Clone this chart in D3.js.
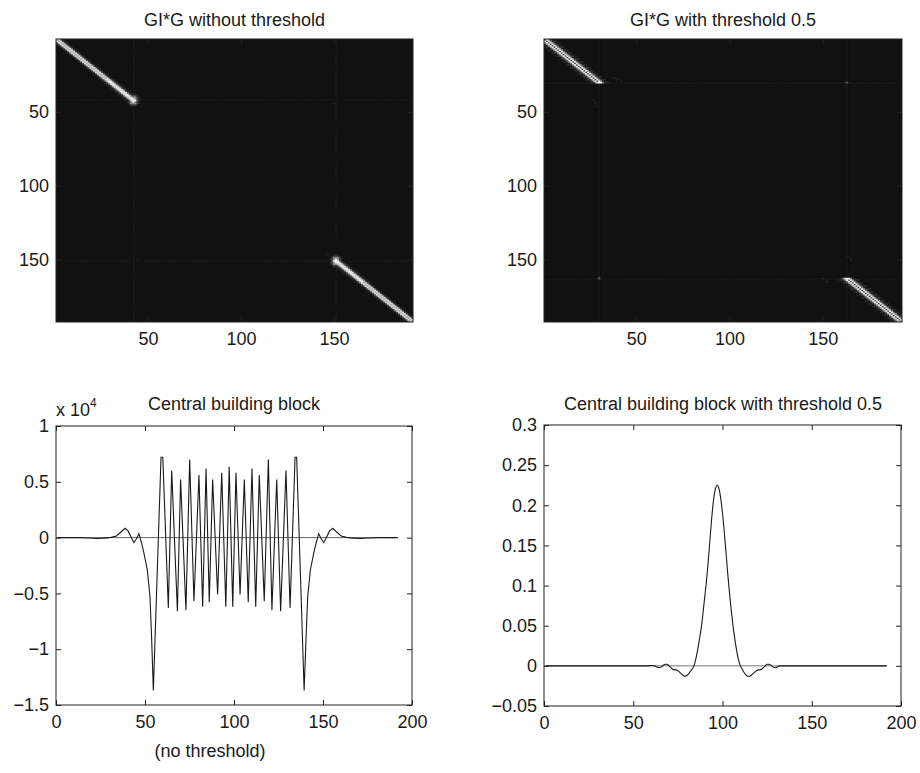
<!DOCTYPE html>
<html>
<head>
<meta charset="utf-8">
<script src="https://cdn.jsdelivr.net/npm/d3@7"></script>
<style>
  body { margin: 0; background: #fff; }
  text { font-family: "Liberation Sans", Arial, Helvetica, sans-serif; fill: #1a1a1a; }
</style>
</head>
<body>
<svg id="chart" width="920" height="773"></svg>
<script>
// ---- data ----
var imgSize = 192;
var imgTicks = [50, 100, 150];
var plotXTicks = [0, 50, 100, 150, 200];
var blYTicks = [-1.5, -1, -0.5, 0, 0.5, 1];
var brYTicks = [-0.05, 0, 0.05, 0.1, 0.15, 0.2, 0.25, 0.3];

// GI*G without threshold: two diagonal runs (rows), cross profiles across the diagonal
var tlRunA = [1, 42];
var tlRunB = [151, 192];
var tlCore = [0.06, 0.25, 0.85, 0.65, 0.85, 0.25, 0.06];
var tlMid = [0.04, 0.08, 0.3, 0.8, 0.95, 0.8, 0.3, 0.08, 0.04];
var tlBloomRadial = [1.0, 0.9, 0.55, 0.22, 0.07];
var tlBloomAt = [[42, 42], [151, 151]];
var tlFaintLines = [42, 151];
var tlSpots = [[44, 150, 0.05], [150, 44, 0.05], [46, 46, 0.06], [47, 47, 0.05], [147, 147, 0.06], [146, 146, 0.05]];

// GI*G with threshold 0.5
var trRunA = [1, 30];
var trRunB = [163, 192];
var trCore = [0.1, 0.45, 0.9, 0.12, 0.9, 0.45, 0.1];
var trChecker = [0.13, 0.03];
var trFaintLines = [30, 163];
var trSpots = [[30, 30, 1.0], [29, 30, 0.9], [30, 29, 0.9], [163, 163, 1.0], [164, 163, 0.9], [163, 164, 0.9],
               [30, 163, 0.28], [30, 162, 0.15], [163, 30, 0.28], [162, 30, 0.15],
               [27, 38, 0.07], [28, 40, 0.08], [29, 42, 0.07], [42, 27, 0.07], [44, 28, 0.08], [46, 29, 0.07],
               [163, 150, 0.07], [165, 152, 0.08], [148, 163, 0.07], [150, 165, 0.08]];

// Central building block (x 10^4)
var blX = [1, 12, 18, 23, 27, 31, 34, 36.5, 38.8, 40.5, 42.3, 43.8, 45.2, 46.6, 48.1, 49.4, 51.3, 52.8, 53.7, 54.7,
           59, 60, 63.1, 65, 68.2, 70, 73, 75.1, 77.5, 80.3, 82.4, 84.3, 86.1, 88, 90.8, 93.1, 95.4, 97.3,
           99.3, 101.1, 103.4, 105.8, 108, 110.1, 112.2, 114.2, 117, 119.3, 121.3, 124, 126.2, 129.2, 131.5, 134.3, 135.2,
           139.4, 140.5, 141.4, 142.9, 144.8, 146.1, 147.6, 149, 150.4, 151.9, 153.7, 155.4, 157.7, 160.2, 163.2, 167, 171, 176, 182, 192];
var blY = [0, 0, -0.003, -0.008, -0.005, 0.002, 0.015, 0.05, 0.083, 0.06, 0.0, -0.046, -0.01, 0.035, -0.05, -0.14, -0.29, -0.53, -0.89, -1.37,
           0.72, 0.72, -0.63, 0.60, -0.66, 0.52, -0.65, 0.70, -0.57, 0.56, -0.62, 0.62, -0.58, 0.52, -0.51, 0.58, -0.62, 0.635,
           -0.62, 0.58, -0.51, 0.52, -0.58, 0.62, -0.62, 0.56, -0.57, 0.70, -0.65, 0.52, -0.66, 0.60, -0.63, 0.72, 0.72,
           -1.37, -0.89, -0.53, -0.29, -0.14, -0.05, 0.035, -0.01, -0.046, 0.0, 0.06, 0.083, 0.05, 0.015, 0.002, -0.005, -0.008, -0.003, 0, 0];

// Central building block with threshold 0.5
var brX = [1, 58, 60, 62, 63, 64, 65, 66, 67, 68, 69, 70, 71, 72, 73, 74, 75, 76, 77, 78, 79, 80, 81, 82, 83, 84, 85, 86, 87, 88, 89,
           90, 91, 92, 93, 94, 95, 96, 97, 98, 99, 100, 101, 102, 103, 104, 105, 106, 107, 108, 109, 110, 111, 112, 113, 114, 115,
           116, 117, 118, 119, 120, 121, 122, 123, 124, 125, 126, 127, 128, 129, 130, 131, 132, 135, 192];
var brY = [0, 0, 0.0005, 0, -0.001, -0.002, -0.002, -0.001, 0.001, 0.002, 0.002, 0.0, -0.002, -0.004, -0.005, -0.005, -0.006, -0.008,
           -0.010, -0.012, -0.013, -0.012, -0.010, -0.007, -0.004, 0.0, 0.008, 0.019, 0.032, 0.046, 0.064,
           0.085, 0.105, 0.13, 0.158, 0.185, 0.207, 0.220, 0.225, 0.221, 0.209, 0.19, 0.167, 0.14, 0.113, 0.089, 0.067, 0.048,
           0.032, 0.018, 0.007, 0.0, -0.004, -0.008, -0.011, -0.013, -0.013, -0.012, -0.010, -0.008, -0.006, -0.005, -0.005,
           -0.004, -0.002, 0.0, 0.002, 0.002, 0.001, -0.001, -0.002, -0.002, -0.001, 0, 0, 0];

// ---- drawing ----
var svg = d3.select('#chart');
var gray = d3.scaleLinear().domain([0, 1]).range(['#111111', '#ffffff']);
var fmt = function(d){ return d < 0 ? '\u2212' + Math.abs(d) : String(d); };

var defs = svg.append('defs');
defs.append('filter').attr('id', 'soft')
  .attr('x', '-5%').attr('y', '-5%').attr('width', '110%').attr('height', '110%')
  .append('feGaussianBlur').attr('stdDeviation', 0.7);

function drawAxes(box, x, y, xTicks, yTicks) {
  var g = svg.append('g');
  g.append('g').attr('transform', 'translate(0,' + box.y1 + ')')
    .call(d3.axisBottom(x).tickValues(xTicks).tickSizeInner(-5).tickSizeOuter(0).tickPadding(10).tickFormat(fmt));
  g.append('g').attr('transform', 'translate(' + box.x0 + ',0)')
    .call(d3.axisLeft(y).tickValues(yTicks).tickSizeInner(-5).tickSizeOuter(0).tickPadding(7).tickFormat(fmt));
  g.append('g').attr('transform', 'translate(0,' + box.y0 + ')')
    .call(d3.axisTop(x).tickValues(xTicks).tickSizeInner(-5).tickSizeOuter(0).tickFormat(''));
  g.append('g').attr('transform', 'translate(' + box.x1 + ',0)')
    .call(d3.axisRight(y).tickValues(yTicks).tickSizeInner(-5).tickSizeOuter(0).tickFormat(''));
  g.selectAll('.domain').remove();
  g.selectAll('g').attr('font-size', 18).attr('font-family', '"Liberation Sans", Arial, sans-serif');
  g.selectAll('line').attr('stroke', '#222');
  g.append('rect')
    .attr('x', box.x0).attr('y', box.y0)
    .attr('width', box.x1 - box.x0).attr('height', box.y1 - box.y0)
    .attr('fill', 'none').attr('stroke', '#222').attr('stroke-width', 1);
}

function title(txt, cx, y) {
  svg.append('text').attr('x', cx).attr('y', y)
    .attr('text-anchor', 'middle').style('font-size', '18px').text(txt);
}

function drawImage(id, box, runA, runB, profileAt, faintLines, spots, checker, blooms) {
  var x = d3.scaleLinear().domain([0.5, imgSize + 0.5]).range([box.x0, box.x1]);
  var y = d3.scaleLinear().domain([0.5, imgSize + 0.5]).range([box.y0, box.y1]);
  var cells = new Map();
  function put(r, c, v) {
    if (r < 1 || r > imgSize || c < 1 || c > imgSize) return;
    var key = r * 1000 + c;
    cells.set(key, Math.max(cells.get(key) || 0, v));
  }
  faintLines.forEach(function(l){
    for (var i = 1; i <= imgSize; i++) { put(l, i, 0.015); put(i, l, 0.015); }
  });
  function run(r0, r1, innerEnd) {
    for (var r = r0; r <= r1; r++) {
      var d = Math.abs(r - innerEnd);
      var p = profileAt(d);
      var half = (p.length - 1) / 2;
      p.forEach(function(v, k){ put(r, r + k - half, v); });
      if (checker) {
        var cv = checker[r % 2];
        [-5, -4, 4, 5].forEach(function(o){ put(r, r + o, cv * (Math.abs(o) === 4 ? 1 : 0.6)); });
      }
    }
  }
  run(runA[0], runA[1], runA[1]);
  run(runB[0], runB[1], runB[0]);
  (blooms || []).forEach(function(b){
    var rad = tlBloomRadial;
    for (var dr = -(rad.length - 1); dr < rad.length; dr++) {
      for (var dc = -(rad.length - 1); dc < rad.length; dc++) {
        var dist = Math.round(Math.sqrt(dr * dr + dc * dc * 1.6));
        if (dist < rad.length) put(b[0] + dr, b[1] + dc, rad[dist]);
      }
    }
  });
  spots.forEach(function(s){ put(s[0], s[1], s[2]); });

  var data = [];
  cells.forEach(function(v, key){ data.push({ r: Math.floor(key / 1000), c: key % 1000, v: v }); });
  data.sort(function(a, b){ return a.v - b.v; });

  defs.append('clipPath').attr('id', 'clip-' + id)
    .append('rect').attr('x', box.x0).attr('y', box.y0)
    .attr('width', box.x1 - box.x0).attr('height', box.y1 - box.y0);

  var g = svg.append('g').attr('clip-path', 'url(#clip-' + id + ')');
  g.append('rect').attr('x', box.x0).attr('y', box.y0)
    .attr('width', box.x1 - box.x0).attr('height', box.y1 - box.y0)
    .attr('fill', gray(0));
  g.append('g').attr('filter', 'url(#soft)')
    .selectAll('rect').data(data).enter().append('rect')
      .attr('x', function(d){ return x(d.c - 0.5); })
      .attr('y', function(d){ return y(d.r - 0.5); })
      .attr('width', x(1.5) - x(0.5) + 0.3)
      .attr('height', y(1.5) - y(0.5) + 0.3)
      .attr('fill', function(d){ return gray(d.v); });

  drawAxes(box, x, y, imgTicks, imgTicks);
}

// top left image
var tlBox = { x0: 56, x1: 413, y0: 39, y1: 322 };
drawImage('tl', tlBox, tlRunA, tlRunB, function(d){
  if (d <= 14) return tlMid;
  return tlCore;
}, tlFaintLines, tlSpots, null, tlBloomAt);
title('GI*G without threshold', 234.5, 26);

// top right image
var trBox = { x0: 544, x1: 902, y0: 39, y1: 322 };
drawImage('tr', trBox, trRunA, trRunB, function(d){ return trCore; }, trFaintLines, trSpots, trChecker, null);
title('GI*G with threshold 0.5', 723, 26);

// bottom left line plot
var blBox = { x0: 56, x1: 412, y0: 426, y1: 705 };
var blx = d3.scaleLinear().domain([0, 200]).range([blBox.x0, blBox.x1]);
var bly = d3.scaleLinear().domain([-1.5, 1]).range([blBox.y1, blBox.y0]);
svg.append('line')
  .attr('x1', blx(0)).attr('x2', blx(192)).attr('y1', bly(0)).attr('y2', bly(0))
  .attr('stroke', '#666').attr('stroke-width', 1);
var blLine = d3.line()
  .x(function(d, i){ return blx(blX[i]); })
  .y(function(d){ return bly(d); });
svg.append('path').attr('d', blLine(blY))
  .attr('fill', 'none').attr('stroke', '#1a1a1a').attr('stroke-width', 1.1);
drawAxes(blBox, blx, bly, plotXTicks, blYTicks);
title('Central building block', 234, 410);
var exp = svg.append('text').attr('x', 56).attr('y', 416).style('font-size', '18px');
exp.append('tspan').text('x 10');
exp.append('tspan').attr('dy', -9).style('font-size', '12px').text('4');
svg.append('text').attr('x', 210).attr('y', 757)
  .attr('text-anchor', 'middle').style('font-size', '18px').text('(no threshold)');

// bottom right line plot
var brBox = { x0: 544, x1: 901, y0: 425, y1: 706 };
var brx = d3.scaleLinear().domain([0, 200]).range([brBox.x0, brBox.x1]);
var bry = d3.scaleLinear().domain([-0.05, 0.3]).range([brBox.y1, brBox.y0]);
svg.append('line')
  .attr('x1', brx(0)).attr('x2', brx(192)).attr('y1', bry(0)).attr('y2', bry(0))
  .attr('stroke', '#777').attr('stroke-width', 1);
var brLine = d3.line()
  .x(function(d, i){ return brx(brX[i]); })
  .y(function(d){ return bry(d); })
  .curve(d3.curveMonotoneX);
svg.append('path').attr('d', brLine(brY))
  .attr('fill', 'none').attr('stroke', '#1a1a1a').attr('stroke-width', 1.1);
drawAxes(brBox, brx, bry, plotXTicks, brYTicks);
title('Central building block with threshold 0.5', 723, 410);
</script>
</body>
</html>
